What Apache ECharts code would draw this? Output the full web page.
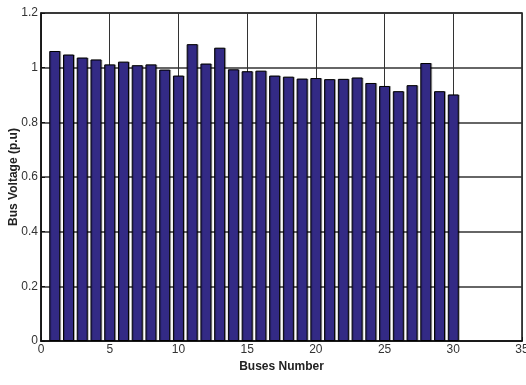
<!DOCTYPE html>
<html>
<head>
<meta charset="utf-8">
<script src="https://cdn.jsdelivr.net/npm/echarts@6/dist/echarts.min.js"></script>
<style>
  html, body { margin: 0; padding: 0; background: #fff; }
  #chart { width: 526px; height: 385px; }
</style>
</head>
<body>
<div id="chart"></div>
<script>
// Bus numbers and per-unit voltage magnitudes
const buses = [1, 2, 3, 4, 5, 6, 7, 8, 9, 10, 11, 12, 13, 14, 15, 16, 17, 18, 19, 20, 21, 22, 23, 24, 25, 26, 27, 28, 29, 30];
const voltages = [1.061, 1.048, 1.037, 1.030, 1.012, 1.022, 1.009, 1.012, 0.993, 0.971,
                  1.086, 1.015, 1.073, 0.994, 0.987, 0.989, 0.971, 0.967, 0.960, 0.962,
                  0.958, 0.959, 0.964, 0.944, 0.933, 0.914, 0.936, 1.017, 0.914, 0.902];
const xTicks = { min: 0, max: 35, step: 5 };
const yTicks = { min: 0, max: 1.2, step: 0.2 };

const chart = echarts.init(document.getElementById('chart'));
const font = '"Liberation Sans", Arial, sans-serif';

chart.setOption({
  animation: false,
  backgroundColor: '#fff',
  grid: {
    left: 41, right: 4, top: 13, bottom: 44,
    outerBoundsMode: 'none',
    containLabel: false,
    show: true, borderColor: '#111', borderWidth: 1.5, backgroundColor: '#fff'
  },
  xAxis: {
    type: 'value',
    min: xTicks.min, max: xTicks.max, interval: xTicks.step,
    name: 'Buses Number',
    nameLocation: 'middle',
    nameGap: 20,
    nameMoveOverlap: false,
    nameTextStyle: { fontFamily: font, fontSize: 12, fontWeight: 'bold', color: '#222', verticalAlign: 'top' },
    axisLine: { show: true, lineStyle: { color: '#111', width: 1.5 } },
    axisTick: { show: true, inside: true, length: 4, lineStyle: { color: '#111' } },
    axisLabel: { fontFamily: font, fontSize: 12, color: '#333', margin: 3 },
    splitLine: { show: true, lineStyle: { color: '#333', type: 'solid', width: 1 } }
  },
  yAxis: {
    type: 'value',
    min: yTicks.min, max: yTicks.max, interval: yTicks.step,
    name: 'Bus Voltage (p.u)',
    nameLocation: 'middle',
    nameGap: 21,
    nameMoveOverlap: false,
    nameTextStyle: { fontFamily: font, fontSize: 12, fontWeight: 'bold', color: '#222' },
    axisLine: { show: true, lineStyle: { color: '#111', width: 1.5 } },
    axisTick: { show: true, inside: true, length: 4, lineStyle: { color: '#111' } },
    axisLabel: {
      fontFamily: font, fontSize: 12, color: '#333', margin: 3,
      formatter: v => String(Math.round(v * 10) / 10)
    },
    splitLine: { show: true, lineStyle: { color: '#333', type: 'solid', width: 1.5 } }
  },
  series: [{
    type: 'bar',
    data: buses.map((b, i) => [b, voltages[i]]),
    barWidth: 11,
    itemStyle: {
      color: '#332a85',
      borderColor: '#000',
      borderWidth: 1,
      shadowColor: 'rgba(0,0,0,0.25)',
      shadowOffsetX: 1,
      shadowOffsetY: 0,
      shadowBlur: 0
    }
  }]
});
</script>
</body>
</html>
